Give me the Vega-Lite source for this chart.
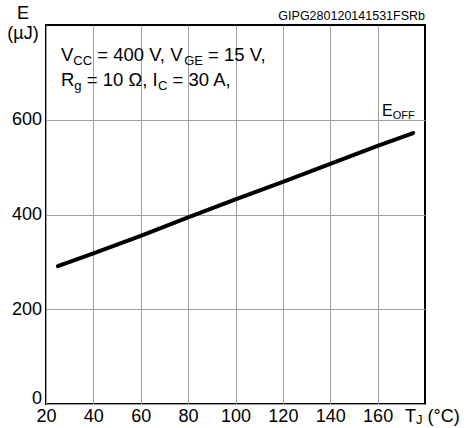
{
  "$schema": "https://vega.github.io/schema/vega-lite/v6.json",
  "width": 379,
  "height": 379,
  "autosize": {"type": "none"},
  "padding": {"left": 46, "top": 25, "right": 39, "bottom": 24},
  "background": "white",
  "config": {
    "font": "Liberation Sans",
    "view": {"stroke": "black", "strokeWidth": 2},
    "axis": {
      "grid": true,
      "gridColor": "#a0a0a0",
      "gridWidth": 1,
      "domain": false,
      "ticks": false,
      "tickSize": 0,
      "labelFont": "Liberation Sans",
      "labelFontSize": 18,
      "labelColor": "black",
      "title": null
    }
  },
  "datasets": {
    "curve": [
      {"tj": 25, "e": 291},
      {"tj": 40, "e": 318},
      {"tj": 60, "e": 355},
      {"tj": 80, "e": 394},
      {"tj": 100, "e": 432},
      {"tj": 120, "e": 469},
      {"tj": 140, "e": 507},
      {"tj": 160, "e": 545},
      {"tj": 175, "e": 572}
    ],
    "conditions": [
      {"text": "V", "tj": 26.33, "e": 724},
      {"text": "= 400 V, V", "tj": 41.64, "e": 724},
      {"text": "= 15 V,", "tj": 88.43, "e": 724},
      {"text": "R", "tj": 26.33, "e": 672},
      {"text": "= 10 Ω, I", "tj": 37.2, "e": 672},
      {"text": "= 30 A,", "tj": 73.43, "e": 672}
    ],
    "conditions_sub": [
      {"text": "CC", "tj": 31.54, "e": 724},
      {"text": "GE", "tj": 78.33, "e": 724},
      {"text": "g", "tj": 31.97, "e": 672},
      {"text": "C", "tj": 67.3, "e": 672}
    ],
    "curve_label": [{"text": "E", "tj": 161.85, "e": 608}],
    "curve_label_sub": [{"text": "OFF", "tj": 166.36, "e": 608}],
    "x_title": [
      {"text": "T", "tj": 171.56, "e": -37.4},
      {"text": "(°C)", "tj": 181.06, "e": -37.4}
    ],
    "x_title_sub": [{"text": "J", "tj": 176.2, "e": -37.4}],
    "y_title": [
      {"text": "E", "tj": 10.29, "e": 812},
      {"text": "(µJ)", "tj": 10.29, "e": 770}
    ],
    "figure_code": [{"text": "GIPG280120141531FSRb", "tj": 180, "e": 810.6}]
  },
  "encoding": {
    "x": {
      "field": "tj",
      "type": "quantitative",
      "scale": {"domain": [20, 180], "nice": false, "zero": false},
      "axis": {
        "values": [20, 40, 60, 80, 100, 120, 140, 160],
        "labelPadding": 3.5,
        "labelFlush": false
      }
    },
    "y": {
      "field": "e",
      "type": "quantitative",
      "scale": {"domain": [0, 800], "nice": false},
      "axis": {
        "values": [0, 200, 400, 600],
        "labelPadding": 4.5,
        "labelFlush": true,
        "labelFlushOffset": 3
      }
    }
  },
  "layer": [
    {
      "data": {"values": [{}]},
      "mark": {"type": "rect", "fill": "white"},
      "encoding": {
        "x": {"datum": 20.5},
        "x2": {"datum": 106},
        "y": {"datum": 656},
        "y2": {"datum": 762}
      }
    },
    {
      "data": {"name": "curve"},
      "mark": {"type": "line", "color": "black", "strokeWidth": 4, "strokeCap": "round"},
      "encoding": {}
    },
    {
      "data": {"name": "conditions"},
      "mark": {"type": "text", "align": "left", "baseline": "alphabetic", "fontSize": 18.5, "color": "black"},
      "encoding": {"text": {"field": "text"}}
    },
    {
      "data": {"name": "conditions_sub"},
      "mark": {"type": "text", "align": "left", "baseline": "alphabetic", "fontSize": 13, "dy": 4, "color": "black"},
      "encoding": {"text": {"field": "text"}}
    },
    {
      "data": {"name": "curve_label"},
      "mark": {"type": "text", "align": "left", "baseline": "alphabetic", "fontSize": 16, "color": "black"},
      "encoding": {"text": {"field": "text"}}
    },
    {
      "data": {"name": "curve_label_sub"},
      "mark": {"type": "text", "align": "left", "baseline": "alphabetic", "fontSize": 11, "dy": 3, "color": "black"},
      "encoding": {"text": {"field": "text"}}
    },
    {
      "data": {"name": "x_title"},
      "mark": {"type": "text", "align": "left", "baseline": "alphabetic", "fontSize": 18, "color": "black"},
      "encoding": {"text": {"field": "text"}}
    },
    {
      "data": {"name": "x_title_sub"},
      "mark": {"type": "text", "align": "left", "baseline": "alphabetic", "fontSize": 13, "dy": 2, "color": "black"},
      "encoding": {"text": {"field": "text"}}
    },
    {
      "data": {"name": "y_title"},
      "mark": {"type": "text", "align": "center", "baseline": "alphabetic", "fontSize": 18, "color": "black"},
      "encoding": {"text": {"field": "text"}}
    },
    {
      "data": {"name": "figure_code"},
      "mark": {"type": "text", "align": "right", "baseline": "alphabetic", "fontSize": 12.5, "color": "black"},
      "encoding": {"text": {"field": "text"}}
    }
  ]
}
